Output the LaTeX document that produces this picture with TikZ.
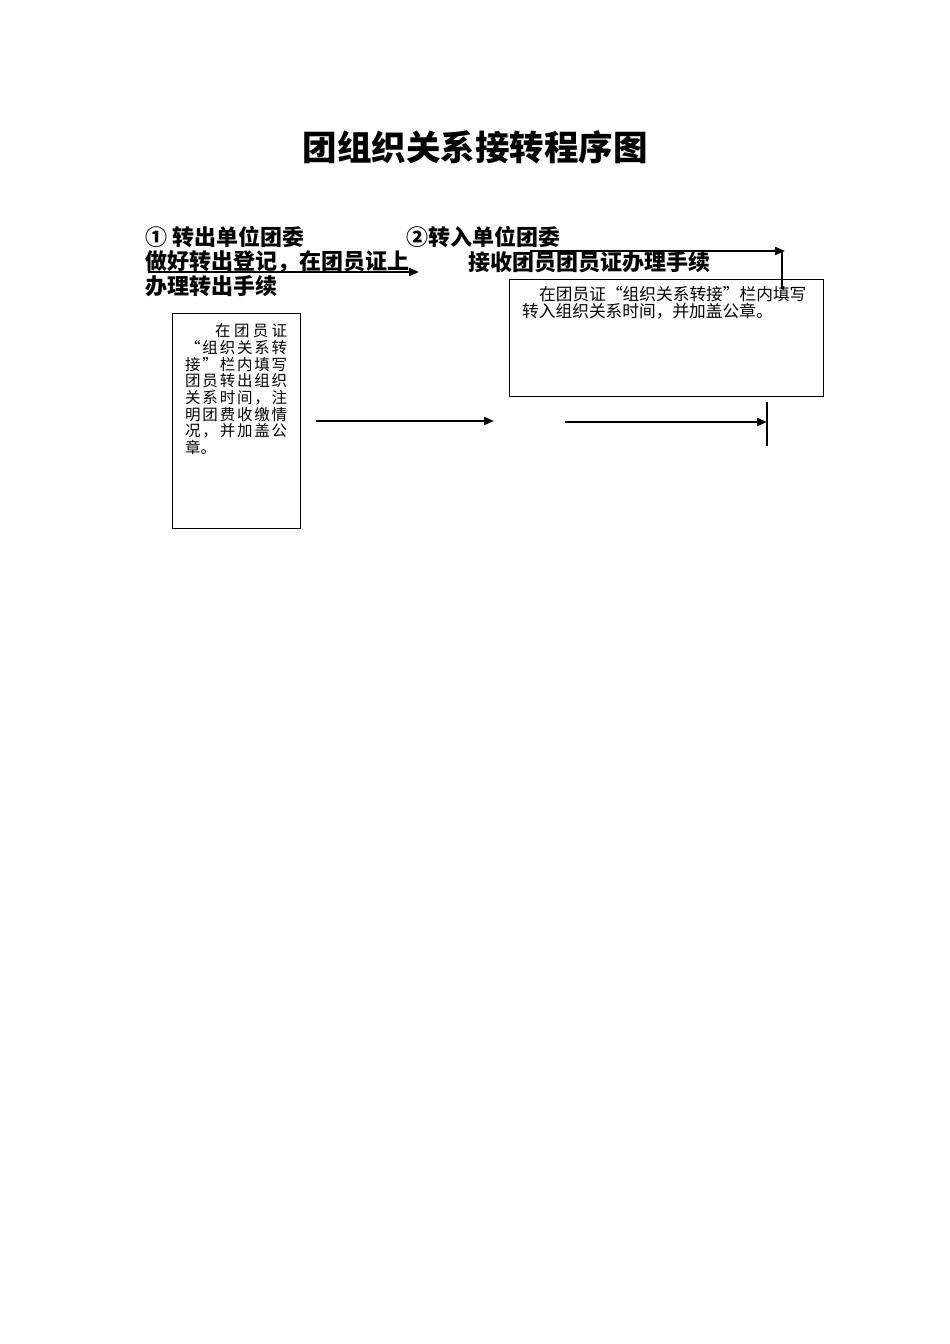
\documentclass[tikz,border=0pt]{standalone}
\usepackage{fontspec}
\newfontfamily\cjk{Noto Sans CJK SC}
\usetikzlibrary{arrows.meta}
\tikzset{
  heading/.style={font=\cjk\bfseries\fontsize{22pt}{22pt}\selectfont, anchor=west, inner sep=0pt},
  boxtext/.style={font=\cjk\fontsize{15.5pt}{15.5pt}\selectfont, anchor=west, inner sep=0pt},
  frame/.style={draw=black, line width=1pt},
  flow/.style={draw=black, line width=2pt, -{Triangle[length=10pt,width=8pt]}},
  bar/.style={draw=black, line width=2pt},
}
\begin{document}
\begin{tikzpicture}[x=1pt,y=-1pt]
\useasboundingbox[fill=white] (0,0) rectangle (950,1344);
% title
\node[font=\cjk\bfseries\fontsize{34.5pt}{34.5pt}\selectfont, inner sep=0pt] (title) at (475,147) {团组织关系接转程序图};
% headings
\node[heading] (h1) at (145,237) {① 转出单位团委};
\node[heading] (h2) at (145,262) {做好转出登记，在团员证上};
\node[heading] (h3) at (145,286) {办理转出手续};
\node[heading] (h4) at (406,237) {②转入单位团委};
\node[heading] (h5) at (468,262) {接收团员团员证办理手续};
% box 1
\node[frame, minimum width=128pt, minimum height=215pt, inner sep=0pt] (box1) at (236,420.5) {};
\node[boxtext] (b1l1) at (215,331) {\makebox[72pt][s]{在\hfill 团\hfill 员\hfill 证}};
\node[boxtext] (b1l2) at (185,347.7) {\makebox[102pt][s]{“\hfill 组\hfill 织\hfill 关\hfill 系\hfill 转}};
\node[boxtext] (b1l3) at (185,364.4) {\makebox[102pt][s]{接\hfill ”\hfill 栏\hfill 内\hfill 填\hfill 写}};
\node[boxtext] (b1l4) at (185,381.1) {\makebox[102pt][s]{团\hfill 员\hfill 转\hfill 出\hfill 组\hfill 织}};
\node[boxtext] (b1l5) at (185,397.8) {\makebox[102pt][s]{关\hfill 系\hfill 时\hfill 间\hfill ，\hfill 注}};
\node[boxtext] (b1l6) at (185,414.5) {\makebox[102pt][s]{明\hfill 团\hfill 费\hfill 收\hfill 缴\hfill 情}};
\node[boxtext] (b1l7) at (185,431.2) {\makebox[102pt][s]{况\hfill ，\hfill 并\hfill 加\hfill 盖\hfill 公}};
\node[boxtext] (b1l8) at (185,447.9) {章。};
% box 2
\node[frame, minimum width=314pt, minimum height=117pt, inner sep=0pt] (box2) at (666,337.5) {};
\node[boxtext, font=\cjk\fontsize{16.7pt}{16.7pt}\selectfont] (b2l1) at (539,294) {在团员证“组织关系转接”栏内填写};
\node[boxtext, font=\cjk\fontsize{16.7pt}{16.7pt}\selectfont] (b2l2) at (522,311) {转入组织关系时间，并加盖公章。};
% connectors
\coordinate (a1s) at (148,272);
\coordinate (a1e) at (419,272);
\draw[flow] (a1s) -- (a1e);
\coordinate (a2s) at (530,251);
\coordinate (a2e) at (785,251);
\coordinate (a2c) at (782,251);
\coordinate (a2d) at (782,289);
\draw[flow] (a2s) -- (a2e);
\draw[bar] (a2c) -- (a2d);
\coordinate (a3s) at (316,421);
\coordinate (a3e) at (494,421);
\draw[flow] (a3s) -- (a3e);
\coordinate (a4s) at (565,422);
\coordinate (a4e) at (767,422);
\draw[flow] (a4s) -- (a4e);
\coordinate (bt) at (766.5,402);
\coordinate (bb) at (766.5,446);
\draw[bar] (bt) -- (bb);
\end{tikzpicture}
\end{document}
